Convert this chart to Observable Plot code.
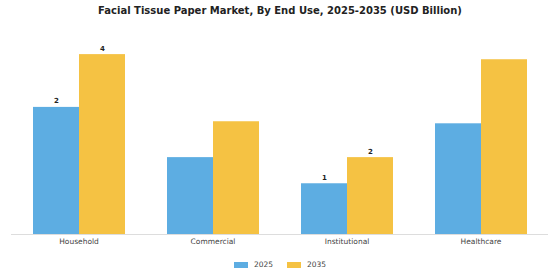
<!DOCTYPE html>
<html><head><meta charset="utf-8">
<script src="https://cdn.jsdelivr.net/npm/d3@7"></script>
<script src="https://cdn.jsdelivr.net/npm/@observablehq/plot@0.6"></script>
<style>
body{margin:0;background:#fff;font-family:"DejaVu Sans",sans-serif;width:560px;height:280px;overflow:hidden;}
#title{height:22px;line-height:22px;text-align:center;font-weight:bold;font-size:10px;color:#222;white-space:nowrap;}
#chart svg{display:block;}
#legend{height:14px;line-height:14px;margin-top:6px;display:flex;justify-content:center;align-items:center;font-size:7.5px;color:#444;}
#legend .item{display:flex;align-items:center;margin:0 7px;}
#legend .sw{width:14px;height:6px;margin-right:6px;}
</style></head><body>
<div id="title">Facial Tissue Paper Market, By End Use, 2025-2035 (USD Billion)</div>
<div id="chart"></div>
<div id="legend"></div>
<script>
const categories = ["Household", "Commercial", "Institutional", "Healthcare"];
const years = ["2025", "2035"];
const values2025 = [2.48, 1.50, 0.99, 2.16];
const values2035 = [3.51, 2.20, 1.50, 3.41];
const labels2025 = ["2", "", "1", ""];
const labels2035 = ["4", "", "2", ""];
const colors = ["#5DADE2", "#F5C243"];

const data = [];
categories.forEach((c, i) => {
  data.push({category: c, year: years[0], value: values2025[i], label: labels2025[i]});
  data.push({category: c, year: years[1], value: values2035[i], label: labels2035[i]});
});

const chart = Plot.plot({
  width: 560,
  height: 230,
  marginTop: 7,
  marginBottom: 18,
  marginLeft: 10,
  marginRight: 12,
  style: {fontFamily: "DejaVu Sans, sans-serif", background: "#fff"},
  fx: {domain: categories, paddingInner: 0.307, paddingOuter: 0.153, label: null, axis: null},
  x: {domain: years, padding: 0, axis: null},
  y: {domain: [0, 4], axis: null},
  color: {domain: years, range: colors},
  marks: [
    Plot.barY(data, {fx: "category", x: "year", y: "value", fill: "year"}),
    Plot.ruleY([0], {stroke: "#ddd", strokeWidth: 1, insetLeft: -21, insetRight: -21}),
    Plot.text(data.filter(d => d.label), {fx: "category", x: "year", y: "value", text: "label",
      lineAnchor: "bottom", dy: -4, fontSize: 7, fontWeight: "bold", fill: "#222"}),
    Plot.axisFx({anchor: "bottom", tickSize: 0, tickPadding: 4, fontSize: 7.5, fill: "#444", label: null})
  ]
});
document.getElementById("chart").appendChild(chart);

const legend = document.getElementById("legend");
years.forEach((y, i) => {
  const item = document.createElement("div");
  item.className = "item";
  const sw = document.createElement("div");
  sw.className = "sw";
  sw.style.background = colors[i];
  const t = document.createElement("span");
  t.textContent = y;
  item.appendChild(sw);
  item.appendChild(t);
  legend.appendChild(item);
});
</script>
</body></html>
